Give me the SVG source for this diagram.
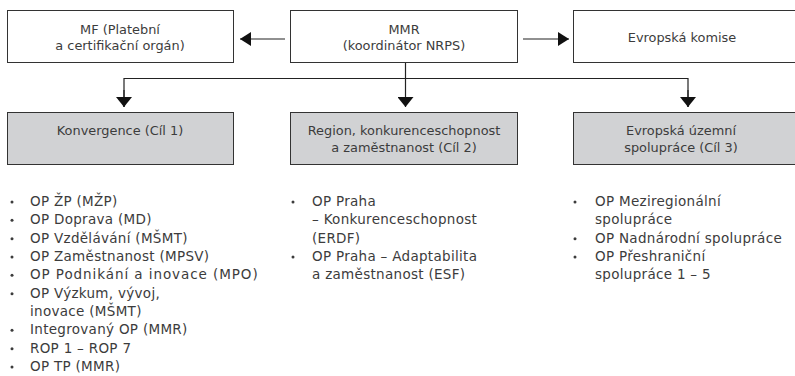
<svg xmlns="http://www.w3.org/2000/svg" width="795" height="376" viewBox="0 0 795 376">
<style>
.box{fill:#fff;stroke:#333;stroke-width:1}
.gbox{fill:#d1d2d4;stroke:#333;stroke-width:1}
text{font-family:"DejaVu Sans","Liberation Sans",sans-serif;font-size:12.9px;fill:#3c3c3c}
.c{text-anchor:middle}
.li{font-size:13.5px;letter-spacing:0.3px}
.ln{stroke:#222;stroke-width:1.2;fill:none}
.dot{fill:#3c3c3c}
</style>
<defs>
<marker id="ah" markerWidth="11" markerHeight="14" refX="11" refY="7" orient="auto" markerUnits="userSpaceOnUse">
<path d="M0,0 L11,7 L0,14 Z" fill="#111"/>
</marker>
<marker id="ahd" markerWidth="10" markerHeight="16" refX="10" refY="8" orient="auto" markerUnits="userSpaceOnUse">
<path d="M0,0 L10,8 L0,16 Z" fill="#111"/>
</marker>
</defs>
<g id="connectors">
<line class="ln" x1="285" y1="39" x2="240" y2="39" marker-end="url(#ah)"/>
<line class="ln" x1="523" y1="39" x2="569" y2="39" marker-end="url(#ah)"/>
<line class="ln" x1="405.5" y1="62" x2="405.5" y2="107" marker-end="url(#ahd)"/>
<polyline class="ln" points="124,107 124,78.5 688,78.5 688,107"/>
<line class="ln" x1="124" y1="90" x2="124" y2="107" marker-end="url(#ahd)"/>
<line class="ln" x1="688" y1="90" x2="688" y2="107" marker-end="url(#ahd)"/>
</g>
<g id="mf">
<rect class="box" x="7.5" y="10.5" width="226" height="52"/>
<text class="c" x="120" y="33.5">MF (Platební</text>
<text class="c" x="120" y="49.5">a certifikační orgán)</text>
</g>
<g id="mmr">
<rect class="box" x="290.5" y="10.5" width="227" height="52"/>
<text class="c" x="404" y="33.5">MMR</text>
<text class="c" x="404" y="49.5">(koordinátor NRPS)</text>
</g>
<g id="ek">
<rect class="box" x="573.5" y="10.5" width="230" height="52"/>
<text class="c" x="682" y="42">Evropská komise</text>
</g>
<g id="cil1">
<rect class="gbox" x="7.5" y="112.5" width="226" height="52"/>
<text class="c" x="120" y="135">Konvergence (Cíl 1)</text>
</g>
<g id="cil2">
<rect class="gbox" x="290.5" y="112.5" width="227" height="52"/>
<text class="c" x="404" y="135">Region, konkurenceschopnost</text>
<text class="c" x="404" y="151.5">a zaměstnanost (Cíl 2)</text>
</g>
<g id="cil3">
<rect class="gbox" x="573.5" y="112.5" width="230" height="52"/>
<text class="c" x="681" y="135">Evropská územní</text>
<text class="c" x="681" y="151.5">spolupráce (Cíl 3)</text>
</g>
<g id="list1">
<circle class="dot" cx="12" cy="202" r="1.5"/>
<circle class="dot" cx="12" cy="220.3" r="1.5"/>
<circle class="dot" cx="12" cy="238.7" r="1.5"/>
<circle class="dot" cx="12" cy="257" r="1.5"/>
<circle class="dot" cx="12" cy="275.3" r="1.5"/>
<circle class="dot" cx="12" cy="293.7" r="1.5"/>
<circle class="dot" cx="12" cy="330.3" r="1.5"/>
<circle class="dot" cx="12" cy="348.7" r="1.5"/>
<circle class="dot" cx="12" cy="367" r="1.5"/>
<text class="li" x="30" y="206">OP ŽP (MŽP)</text>
<text class="li" x="30" y="224.3">OP Doprava (MD)</text>
<text class="li" x="30" y="242.7">OP Vzdělávání (MŠMT)</text>
<text class="li" x="30" y="261">OP Zaměstnanost (MPSV)</text>
<text class="li" x="30" y="279.3" textLength="228" lengthAdjust="spacing">OP Podnikání a inovace (MPO)</text>
<text class="li" x="30" y="297.7">OP Výzkum, vývoj,</text>
<text class="li" x="30" y="316">inovace (MŠMT)</text>
<text class="li" x="30" y="334.3">Integrovaný OP (MMR)</text>
<text class="li" x="30" y="352.7">ROP 1 – ROP 7</text>
<text class="li" x="30" y="371">OP TP (MMR)</text>
</g>
<g id="list2">
<circle class="dot" cx="293" cy="202" r="1.5"/>
<circle class="dot" cx="293" cy="257" r="1.5"/>
<text class="li" x="312" y="206">OP Praha</text>
<text class="li" x="312" y="224.3">– Konkurenceschopnost</text>
<text class="li" x="312" y="242.7">(ERDF)</text>
<text class="li" x="312" y="261">OP Praha – Adaptabilita</text>
<text class="li" x="312" y="279.3">a zaměstnanost (ESF)</text>
</g>
<g id="list3">
<circle class="dot" cx="575" cy="202" r="1.5"/>
<circle class="dot" cx="575" cy="238.7" r="1.5"/>
<circle class="dot" cx="575" cy="257" r="1.5"/>
<text class="li" x="595" y="206">OP Meziregionální</text>
<text class="li" x="595" y="224.3">spolupráce</text>
<text class="li" x="595" y="242.7">OP Nadnárodní spolupráce</text>
<text class="li" x="595" y="261">OP Přeshraniční</text>
<text class="li" x="595" y="279.3">spolupráce 1 – 5</text>
</g>
</svg>
